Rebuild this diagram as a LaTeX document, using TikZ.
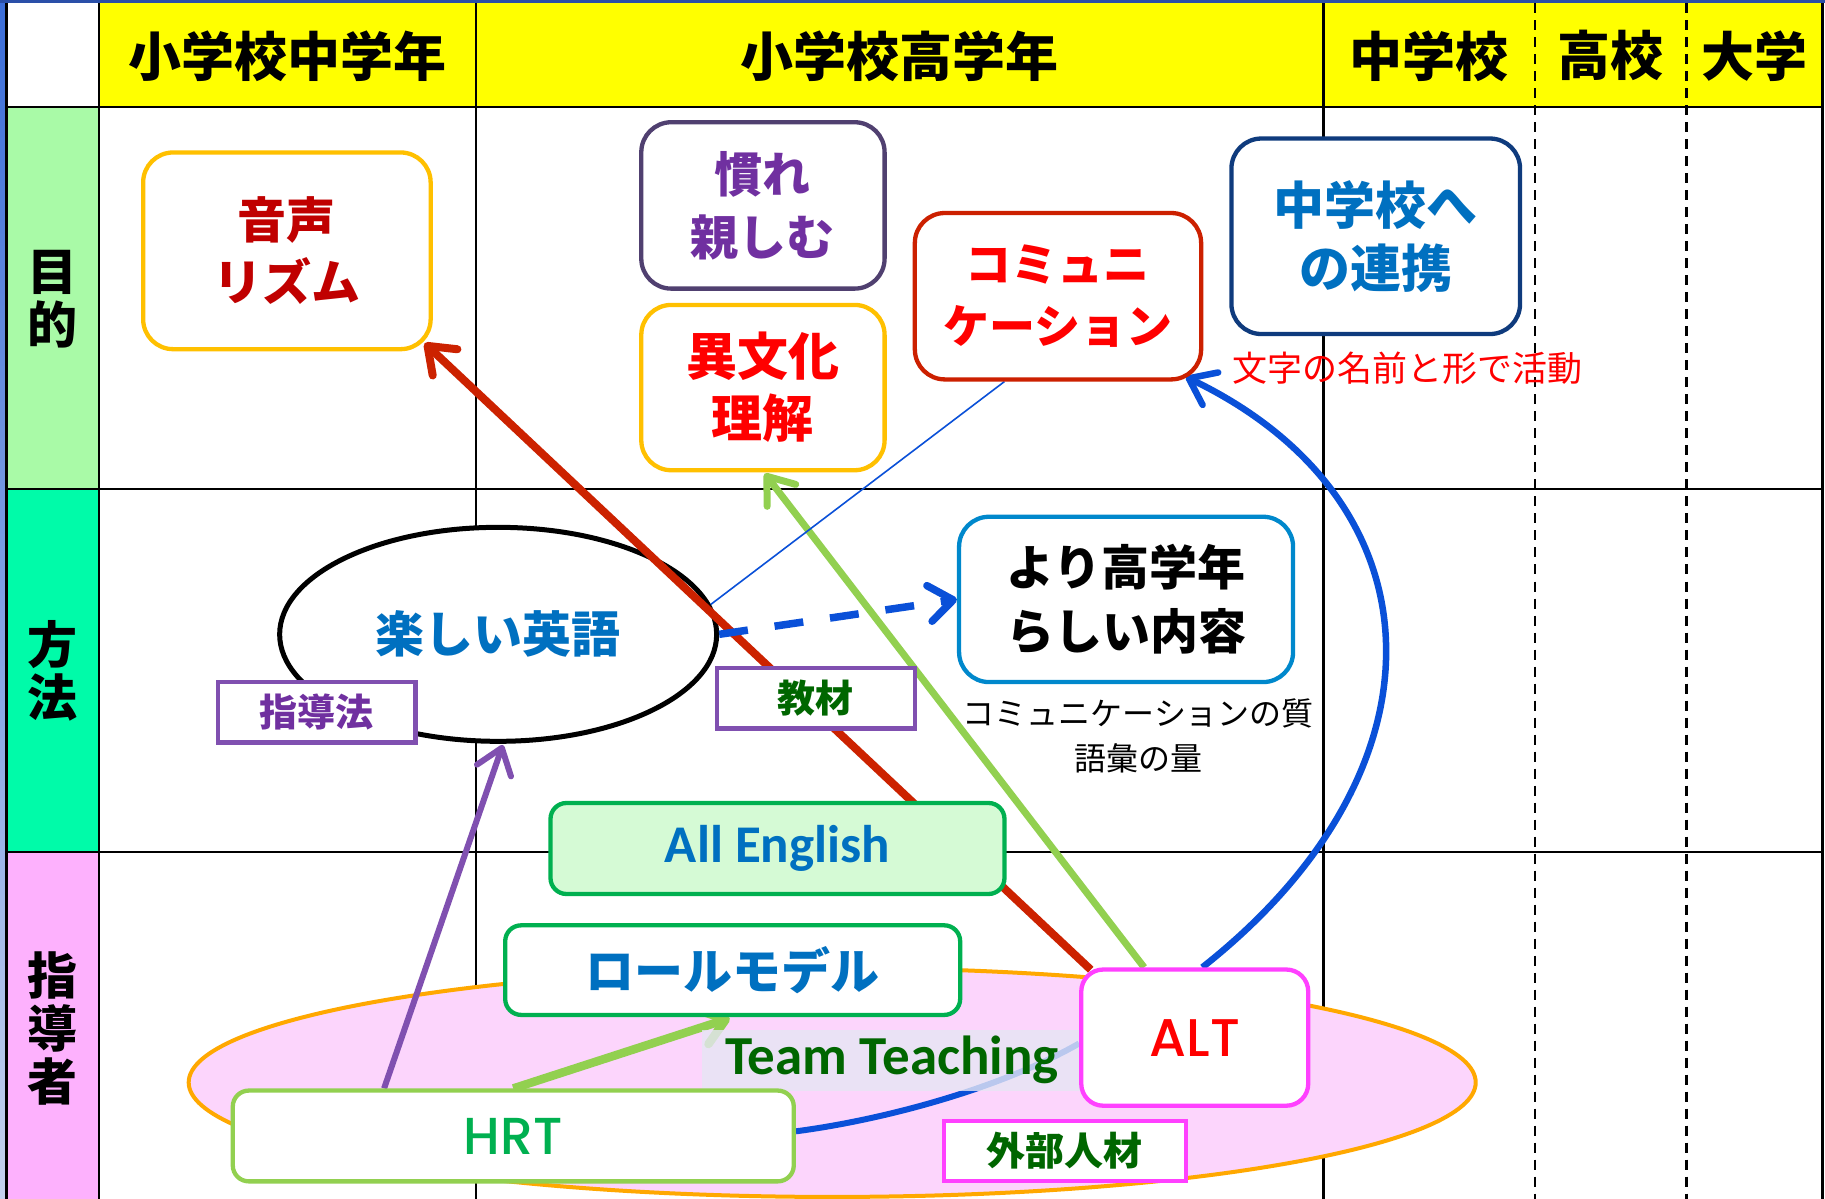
\documentclass[tikz,border=0pt]{standalone}
\usepackage{fontspec}
\setmainfont{Noto Sans CJK JP}
\newfontfamily\calb{Carlito}
\newfontfamily\pop{Poppins Medium}
\usetikzlibrary{arrows.meta,calc,shapes.geometric}
\pgfdeclarelayer{bg}
\pgfdeclarelayer{arr}
\pgfsetlayers{bg,arr,main}
\definecolor{hdrY}{HTML}{FFFF00}
\definecolor{rowA}{HTML}{A9FAA7}
\definecolor{rowB}{HTML}{00FBA9}
\definecolor{rowC}{HTML}{FDB1FD}
\definecolor{stripeTop}{HTML}{3C6ED8}
\definecolor{stripeBot}{HTML}{C4D2EE}
\definecolor{topBlue}{HTML}{2A4FA8}
\definecolor{cGold}{HTML}{FFC000}
\definecolor{cDarkRed}{HTML}{C00000}
\definecolor{cRed}{HTML}{FF0000}
\definecolor{cPurpleB}{HTML}{504070}
\definecolor{cPurple}{HTML}{7030A0}
\definecolor{cCommB}{HTML}{CC2000}
\definecolor{cNavy}{HTML}{0F3B7D}
\definecolor{cBlue}{HTML}{0070C0}
\definecolor{cLav}{HTML}{8050B0}
\definecolor{cDGreen}{HTML}{006600}
\definecolor{cSky}{HTML}{0088CC}
\definecolor{cGreen}{HTML}{00B050}
\definecolor{cMint}{HTML}{D5FAD5}
\definecolor{cLime}{HTML}{92D050}
\definecolor{cMag}{HTML}{FF40FF}
\definecolor{cPinkF}{HTML}{FCD5FC}
\definecolor{cOrange}{HTML}{FFA800}
\definecolor{cTT}{HTML}{E6E6F4}
\definecolor{cArrRed}{HTML}{CC2200}
\definecolor{cArrBlue}{HTML}{0A50D8}
\newcommand\fsz[2]{\fontsize{#1pt}{#2pt}\selectfont}

\begin{document}
\begin{tikzpicture}[x=1.1639pt,y=-1.1639pt,
  gridln/.style={line width=2.4pt,black},
  rbox/.style={draw,line width=4.3pt,rounded corners=30pt,fill=white,align=center,inner sep=0pt},
  tbox/.style={rbox,execute at begin node={\rule{0pt}{50pt}}},
  sbox/.style={draw,line width=4.2pt,fill=white,align=center,inner sep=0pt},
  hfont/.style={font=\fsz{53}{60}\bfseries},
  lfont/.style={font=\fsz{50}{53}\bfseries,align=center},
  barb/.style={-{Straight Barb[length=24pt,width=36pt,round]}},
]
\useasboundingbox (0,0) rectangle (1568,1030);

\begin{pgfonlayer}{bg}
  \fill[white] (0,0) rectangle (1568,1030);
  \fill[hdrY] (85,3) rectangle (1566,92);
  \fill[rowA] (5,92) rectangle (85,420);
  \fill[rowB] (5,420) rectangle (85,732);
  \fill[rowC] (5,732) rectangle (85,1030);
  \shade[top color=stripeTop,bottom color=stripeBot] (0,0) rectangle (5,1030);
  \draw[line width=3pt,topBlue] (0,1.3) -- (1568,1.3);
  \draw[gridln] (5.5,3) -- (5.5,1030);
  \draw[gridln] (5,92) -- (1566,92);
  \draw[gridln] (5,420) -- (1566,420);
  \draw[gridln] (5,732) -- (1566,732);
  \draw[gridln] (85,3) -- (85,1030);
  \draw[gridln] (409,3) -- (409,1030);
  \draw[gridln] (1137,3) -- (1137,1030);
  \draw[gridln] (1566,3) -- (1566,1030);
  \draw[gridln,dash pattern=on 10pt off 7pt] (1319,3) -- (1319,1030);
  \draw[gridln,dash pattern=on 10pt off 7pt] (1449,3) -- (1449,1030);
  \node[ellipse,draw=cOrange,fill=cPinkF,line width=4pt,minimum width=1287pt,minimum height=229pt,inner sep=0pt] (pink) at (715,930) {};
  \node[ellipse,draw=black,fill=white,line width=5pt,minimum width=437pt,minimum height=214pt,inner sep=0pt,text=cBlue,font=\fsz{49}{55}\bfseries] (tanoshii) at (428,545) {楽しい英語};
\end{pgfonlayer}

% headers
\node[hfont] (hA) at (247,48) {小学校中学年};
\node[hfont] (hB) at (773,48) {小学校高学年};
\node[hfont] (hC) at (1228,48) {中学校};
\node[hfont] (hD) at (1384,48) {高校};
\node[hfont] (hE) at (1507,48) {大学};
% row labels
\node[lfont] (rA) at (45,257) {目\\的};
\node[lfont] (rB) at (45,576) {方\\法};
\node[lfont] (rC) at (45,884) {指\\導\\者};

% goals
\node[tbox,draw=cGold,text=cDarkRed,minimum width=287.5pt,minimum height=196.7pt,font=\fsz{49}{62}\bfseries] (oto) at (246.5,215.5) {音声\\リズム};
\node[tbox,draw=cPurpleB,text=cPurple,minimum width=243.3pt,minimum height=166.4pt,font=\fsz{48}{63}\bfseries] (nare) at (655.5,176.5) {慣れ\\親しむ};
\node[tbox,draw=cGold,text=cRed,minimum width=243.3pt,minimum height=165.3pt,font=\fsz{51}{62}\bfseries] (ibunka) at (655.5,333) {異文化\\理解};
\node[tbox,draw=cCommB,text=cRed,minimum width=286.3pt,minimum height=166.4pt,font=\fsz{46}{62}\bfseries] (comm) at (909,254.5) {コミュニ\\ケーション};
\node[tbox,draw=cNavy,text=cBlue,minimum width=288.6pt,minimum height=195.5pt,font=\fsz{51}{63}\bfseries] (chu) at (1182,203) {中学校へ\\の連携};
\node[text=cRed,font=\fsz{35}{40},inner sep=0pt] (moji) at (1209,316) {文字の名前と形で活動};

% methods
\node[sbox,draw=cLav,text=cPurple,minimum width=197.9pt,minimum height=60.5pt,font=\fsz{38}{44}\bfseries] (shido) at (272,612) {指導法};
\node[sbox,draw=cLav,text=cDGreen,minimum width=197.9pt,minimum height=60.5pt,font=\fsz{38}{44}\bfseries] (kyozai) at (701,600) {教材};
\node[tbox,draw=cSky,text=black,minimum width=334pt,minimum height=165.3pt,font=\fsz{48}{64}\bfseries] (yori) at (967.5,515) {より高学年\\らしい内容};
\node[align=center,font=\fsz{32}{45},inner sep=0pt] (qual) at (978,632) {コミュニケーションの質\\語彙の量};

% teachers
\node[rbox,draw=cGreen,fill=cMint,text=cBlue,minimum width=454pt,minimum height=91pt,rounded corners=16pt,font=\calb\fsz{53}{60}\bfseries] (alleng) at (668,729) {All English};
\node[rbox,draw=cGreen,text=cBlue,minimum width=455pt,minimum height=89.6pt,rounded corners=16pt,font=\fsz{49}{55}\bfseries] (role) at (629.5,833.5) {ロールモデル};
\node[fill=cTT,fill opacity=0.8,text opacity=1,text=cDGreen,minimum width=380.6pt,minimum height=60.5pt,inner sep=0pt,font=\calb\fsz{55}{58}\bfseries] (tt) at (766.5,911) {Team Teaching};
\node[rbox,draw=cLime,text=cGreen,minimum width=561pt,minimum height=90.8pt,rounded corners=16pt,font=\pop\fsz{52}{55}] (hrt) at (441,976) {HRT};
\node[rbox,draw=cMag,text=cRed,minimum width=227pt,minimum height=136.2pt,rounded corners=22pt,font=\pop\fsz{53}{60}] (alt) at (1026.5,891.5) {ALT};
\node[sbox,draw=cMag,text=cDGreen,minimum width=242pt,minimum height=60.5pt,font=\fsz{39}{44}\bfseries] (gaibu) at (915,989) {外部人材};

% connectors
\begin{pgfonlayer}{arr}
  \draw[cArrRed,line width=8pt,barb] ($(alt.north west)+(10,2)$) -- ($(oto.south east)+(-7,-7)$);
  \draw[cLime,line width=7pt,barb] ($(alt.north)+(-43.5,0)$) -- ($(ibunka.south)+(1.5,1)$);
  \draw[cArrBlue,line width=1.6pt] ($(comm.south)+(-46,0)$) -- (tanoshii.8);
  \draw[cArrBlue,line width=7.5pt,dash pattern=on 29pt off 27pt,barb] (tanoshii.east) -- (yori.west);
  \draw[cArrBlue,line width=6.5pt,barb] ($(alt.north)+(6.5,0)$) .. controls (1250,660) and (1240,430) .. ($(comm.south east)+(-15,-4)$);
  \draw[cLav,line width=6pt,barb] ($(hrt.north)+(-111,0)$) -- ($(tanoshii.south)+(4,1)$);
  \draw[cLime,line width=8.5pt,barb] (hrt.north) -- ($(role.south)+(-2.5,1)$);
  \draw[cArrBlue,line width=6pt] ($(hrt.east)+(0,-4)$) .. controls (760,962) and (860,935) .. ($(alt.west)+(0,5)$);
\end{pgfonlayer}
\end{tikzpicture}
\end{document}
